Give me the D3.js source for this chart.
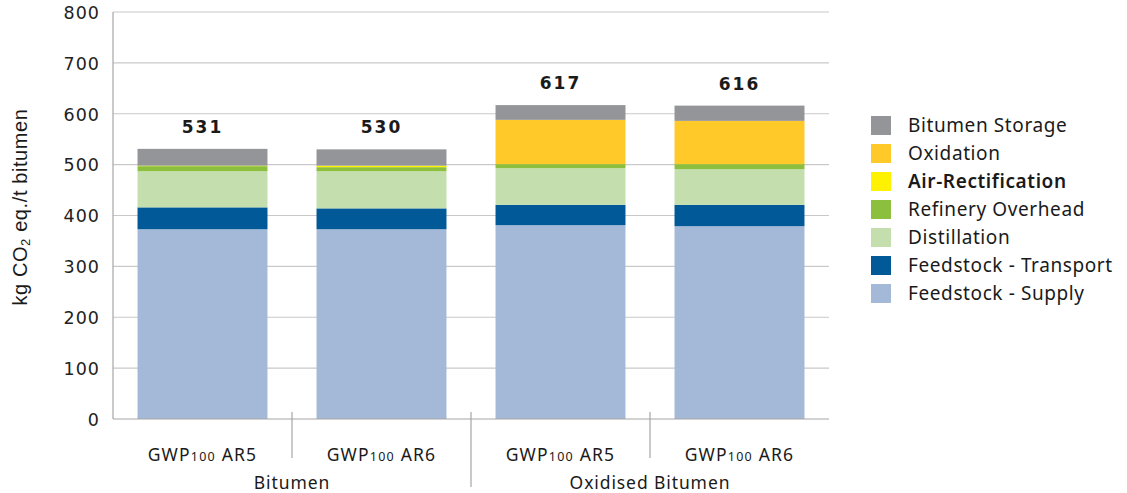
<!DOCTYPE html>
<html>
<head>
<meta charset="utf-8">
<script src="https://cdn.jsdelivr.net/npm/d3@7"></script>
<style>
  html, body { margin: 0; padding: 0; background: #fff; }
  svg { display: block; font-family: "Noto Sans", "Open Sans", sans-serif; }
</style>
</head>
<body>
<svg id="chart" width="1127" height="493"></svg>
<script>
// Bar categories (scenario + group)
const categories = ["Bitumen AR5", "Bitumen AR6", "Oxidised AR5", "Oxidised AR6"];
const scenarioLabels = ["AR5", "AR6", "AR5", "AR6"];
const groups = ["Bitumen", "Oxidised Bitumen"];

// Stack layers, bottom to top
const layers = ["Feedstock - Supply", "Feedstock - Transport", "Distillation",
                "Refinery Overhead", "Air-Rectification", "Oxidation", "Bitumen Storage"];
const layerColors = ["#a4b9d7", "#015a97", "#c4dfad", "#8dbf3f", "#fff200", "#ffc929", "#949599"];

// Values per layer (kg CO2 eq./t bitumen), one per category
const supply       = [373, 373, 381, 379];
const transport    = [43, 41, 40, 42];
const distillation = [71, 73, 72, 70];
const refinery     = [10, 8, 8, 10];
const airRect      = [1, 3, 0, 0];
const oxidation    = [0, 0, 87, 85];
const storage      = [33, 32, 29, 30];
const totals       = [531, 530, 617, 616];

const yTicks = [0, 100, 200, 300, 400, 500, 600, 700, 800];

const series = [supply, transport, distillation, refinery, airRect, oxidation, storage];
const rows = categories.map((c, i) => {
  const r = { cat: c };
  layers.forEach((l, k) => r[l] = series[k][i]);
  return r;
});

const svg = d3.select("#chart");
const plotLeft = 113, plotRight = 829, plotTop = 12, plotBottom = 419;

const x = d3.scaleBand().domain(categories).range([plotLeft, plotRight]).paddingInner(0.274).paddingOuter(0.137);
const y = d3.scaleLinear().domain([0, 800]).range([plotBottom, plotTop]);

// Gridlines
svg.append("g")
  .selectAll("line").data(yTicks.filter(d => d > 0)).join("line")
  .attr("x1", plotLeft).attr("x2", plotRight)
  .attr("y1", d => y(d)).attr("y2", d => y(d))
  .attr("stroke", "#c9c9c9").attr("stroke-width", 1.2);

// Y axis labels
const yAxis = d3.axisLeft(y).tickValues(yTicks).tickSize(0).tickPadding(13);
const gy = svg.append("g").attr("transform", `translate(${plotLeft},0)`).call(yAxis);
gy.select(".domain").remove();
gy.selectAll("text")
  .attr("font-family", "DejaVu Sans, sans-serif")
  .attr("font-size", 17.5).attr("fill", "#222").attr("letter-spacing", 1)
  .attr("dy", "0.36em");

// Stacked bars
const stack = d3.stack().keys(layers)(rows);
svg.append("g").selectAll("g").data(stack).join("g")
  .attr("fill", (d, i) => layerColors[i])
  .selectAll("rect").data(d => d).join("rect")
  .attr("x", d => x(d.data.cat))
  .attr("width", x.bandwidth())
  .attr("y", d => y(d[1]))
  .attr("height", d => Math.max(0, y(d[0]) - y(d[1])));

// Axis lines
svg.append("line").attr("x1", plotLeft).attr("x2", plotLeft).attr("y1", plotTop).attr("y2", plotBottom)
  .attr("stroke", "#a6a6a6").attr("stroke-width", 1.2);
svg.append("line").attr("x1", plotLeft).attr("x2", plotRight).attr("y1", plotBottom).attr("y2", plotBottom)
  .attr("stroke", "#a6a6a6").attr("stroke-width", 1.2);

// Category separators below the axis
const step = x.step();
[1, 2, 3].forEach(k => {
  const sx = plotLeft + step * k;
  svg.append("line").attr("x1", sx).attr("x2", sx)
    .attr("y1", plotBottom - 7).attr("y2", k === 2 ? 487 : 458)
    .attr("stroke", "#a6a6a6").attr("stroke-width", 1.2);
});

// Total labels
svg.append("g").selectAll("text").data(categories).join("text")
  .attr("x", d => x(d) + x.bandwidth() / 2)
  .attr("y", (d, i) => y(totals[i]) - 16)
  .attr("text-anchor", "middle")
  .attr("font-family", "DejaVu Sans, sans-serif")
  .attr("font-weight", "bold").attr("font-size", 17).attr("letter-spacing", 2)
  .attr("fill", "#1a1a1a")
  .text((d, i) => totals[i]);

// Scenario labels with GWP100 subscript
const xl = svg.append("g").selectAll("text").data(categories).join("text")
  .attr("x", d => x(d) + x.bandwidth() / 2)
  .attr("y", 461)
  .attr("text-anchor", "middle")
  .attr("font-size", 17.5).attr("letter-spacing", 1.2).attr("fill", "#1a1a1a");
xl.append("tspan").text("GWP");
xl.append("tspan").attr("font-size", 12.5).text("100");
xl.append("tspan").text((d, i) => " " + scenarioLabels[i]);

// Group labels
svg.append("g").selectAll("text").data(groups).join("text")
  .attr("x", (d, i) => plotLeft + step * (2 * i + 1))
  .attr("y", 489)
  .attr("text-anchor", "middle")
  .attr("font-size", 17.5).attr("letter-spacing", 0.9).attr("fill", "#1a1a1a")
  .text(d => d);

// Y axis title
const yt = svg.append("text")
  .attr("transform", "translate(27,207) rotate(-90)")
  .attr("text-anchor", "middle")
  .attr("font-family", "Liberation Sans, Arial, sans-serif")
  .attr("font-size", 20).attr("letter-spacing", 0.6).attr("fill", "#1a1a1a");
yt.append("tspan").text("kg CO");
yt.append("tspan").attr("font-size", 13).attr("dy", 3).text("2");
yt.append("tspan").attr("dy", -3).text(" eq./t bitumen");

// Legend, top entry first
const legendOrder = layers.slice().reverse();
const lg = svg.append("g").selectAll("g").data(legendOrder).join("g")
  .attr("transform", (d, i) => `translate(871,${116 + i * 28})`);
lg.append("rect").attr("width", 20).attr("height", 19)
  .attr("fill", d => layerColors[layers.indexOf(d)]);
lg.append("text").attr("x", 37).attr("y", 9.5).attr("dy", "0.36em")
  .attr("font-size", 19).attr("letter-spacing", 0.6).attr("fill", "#1a1a1a")
  .attr("font-weight", d => d === "Air-Rectification" ? 600 : 400)
  .text(d => d);
</script>
</body>
</html>
